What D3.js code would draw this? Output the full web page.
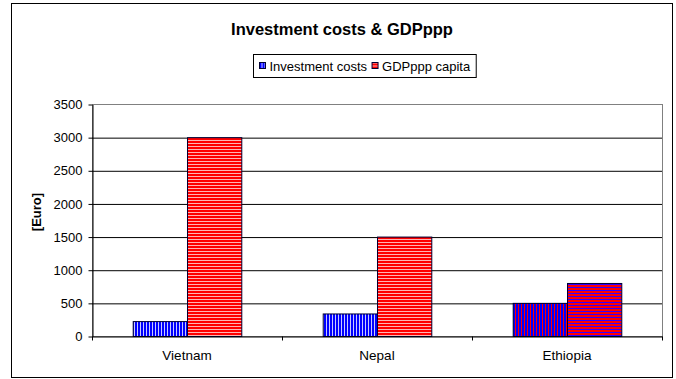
<!DOCTYPE html>
<html>
<head>
<meta charset="utf-8">
<script src="https://cdn.jsdelivr.net/npm/d3@7"></script>
<style>
  html, body { margin: 0; padding: 0; background: #fff; }
  svg { display: block; font-family: "Liberation Sans", Arial, sans-serif; }
</style>
</head>
<body>
<svg id="chart" width="676" height="379"></svg>
<script>
// Chart data
const categories = ["Vietnam", "Nepal", "Ethiopia"];
const seriesNames = ["Investment costs", "GDPppp capita"];
const investmentCosts = [225, 340, 500];
const gdpPerCapita = [3000, 1500, 800];
const yTicks = [0, 500, 1000, 1500, 2000, 2500, 3000, 3500];

const svg = d3.select("#chart");
const defs = svg.append("defs");

// Striped fills: vertical stripes for investment, horizontal for GDP
function stripes(id, horizontal, fg, bg) {
  const p = defs.append("pattern")
    .attr("id", id)
    .attr("patternUnits", "userSpaceOnUse")
    .attr("width", 3).attr("height", 3);
  p.append("rect").attr("width", 3).attr("height", 3).attr("fill", bg);
  if (horizontal) p.append("rect").attr("width", 3).attr("height", 2).attr("fill", fg);
  else p.append("rect").attr("width", 2).attr("height", 3).attr("fill", fg);
}
stripes("invBlue", false, "#0000ff", "#c8c8ff");
stripes("gdpRed", true, "#ff0000", "#ffb4b4");
stripes("invMix", false, "#0000ff", "#ff0000");
stripes("gdpMix", true, "#ff0000", "#3300ff");

const fills = [
  ["url(#invBlue)", "url(#invBlue)", "url(#invMix)"],
  ["url(#gdpRed)", "url(#gdpRed)", "url(#gdpMix)"]
];

// Outer chart frame
svg.append("rect")
  .attr("x", 11.5).attr("y", 3.5)
  .attr("width", 661).attr("height", 374)
  .attr("fill", "#fff").attr("stroke", "#000").attr("stroke-width", 1);

// Title
svg.append("text")
  .attr("x", 342).attr("y", 35)
  .attr("text-anchor", "middle")
  .attr("font-size", 16.5).attr("font-weight", "bold")
  .text("Investment costs & GDPppp");

const plot = { left: 92, right: 662, top: 104, bottom: 336 };

const x = d3.scaleBand().domain(categories).range([plot.left, plot.right]).padding(0);
const groupPad = x.bandwidth() * 0.75 / 3.5;
const xs = d3.scaleBand().domain(d3.range(seriesNames.length))
  .range([groupPad, x.bandwidth() - groupPad]).padding(0);
const y = d3.scaleLinear().domain([0, 3500]).range([plot.bottom, plot.top]);

// Plot area frame (grey top and right edges)
svg.append("rect")
  .attr("x", plot.left + 0.5).attr("y", plot.top + 0.5)
  .attr("width", plot.right - plot.left).attr("height", plot.bottom - plot.top)
  .attr("fill", "#fff").attr("stroke", "#808080");

// Horizontal gridlines
svg.append("g")
  .attr("transform", `translate(${plot.left},0)`)
  .call(d3.axisLeft(y).tickValues(yTicks.filter(v => v > 0 && v < 3500))
    .tickSize(-(plot.right - plot.left)).tickFormat(""))
  .call(g => g.select(".domain").remove())
  .call(g => g.selectAll("line").attr("stroke", "#000").attr("transform", "translate(0,0.5)"));

// Bars
const barData = [];
categories.forEach((c, i) => {
  [investmentCosts[i], gdpPerCapita[i]].forEach((v, s) => barData.push({ c, s, v, i }));
});
svg.append("g").selectAll("rect")
  .data(barData)
  .join("rect")
  .attr("x", d => x(d.c) + xs(d.s) + 0.5)
  .attr("y", d => y(d.v) + 0.5)
  .attr("width", xs.bandwidth())
  .attr("height", d => y(0) - y(d.v))
  .attr("fill", d => fills[d.s][d.i])
  .attr("stroke", "#000033");

// Y axis
const yAxis = svg.append("g")
  .attr("transform", `translate(${plot.left + 0.5},0.5)`)
  .call(d3.axisLeft(y).tickValues(yTicks).tickFormat(d3.format("d"))
    .tickSize(4).tickSizeOuter(0).tickPadding(6))
  .call(g => g.select(".domain").attr("stroke", "#000"));
yAxis.selectAll("text").attr("font-size", 13).attr("fill", "#000")
  .attr("font-family", "'Liberation Sans', Arial, sans-serif");

// Y axis title
svg.append("text")
  .attr("transform", `translate(41,212) rotate(-90)`)
  .attr("text-anchor", "middle")
  .attr("font-size", 13).attr("font-weight", "bold")
  .text("[Euro]");

// X axis: baseline, category boundary ticks and labels
const xAxis = svg.append("g")
  .attr("transform", `translate(0,${plot.bottom + 0.5})`)
  .call(d3.axisBottom(x).tickSize(0).tickPadding(14).tickSizeOuter(0))
  .call(g => g.select(".domain").attr("stroke", "#000"));
xAxis.selectAll("text").attr("font-size", 13.5).attr("fill", "#000")
  .attr("font-family", "'Liberation Sans', Arial, sans-serif");
const boundaries = categories.map(c => x(c)).concat([x.range()[1]]);
xAxis.selectAll(".boundary")
  .data(boundaries)
  .join("line")
  .attr("class", "boundary")
  .attr("x1", d => d + 0.5).attr("x2", d => d + 0.5)
  .attr("y1", 0).attr("y2", 4)
  .attr("stroke", "#000");

// Legend
const legend = svg.append("g").attr("transform", "translate(253.5,54.5)");
legend.append("rect").attr("width", 175).attr("height", 23)
  .attr("fill", "#fff").attr("stroke", "#000");
let lx = 6;
seriesNames.forEach((name, s) => {
  legend.append("rect")
    .attr("x", lx).attr("y", 8).attr("width", 6).attr("height", 6)
    .attr("fill", fills[s][0]).attr("stroke", "#000033");
  const t = legend.append("text")
    .attr("x", lx + 10).attr("y", 16)
    .attr("font-size", 13)
    .text(name);
  lx += 10 + t.node().getComputedTextLength() + 5;
});
legend.select("rect").attr("width", lx + 1);
</script>
</body>
</html>
